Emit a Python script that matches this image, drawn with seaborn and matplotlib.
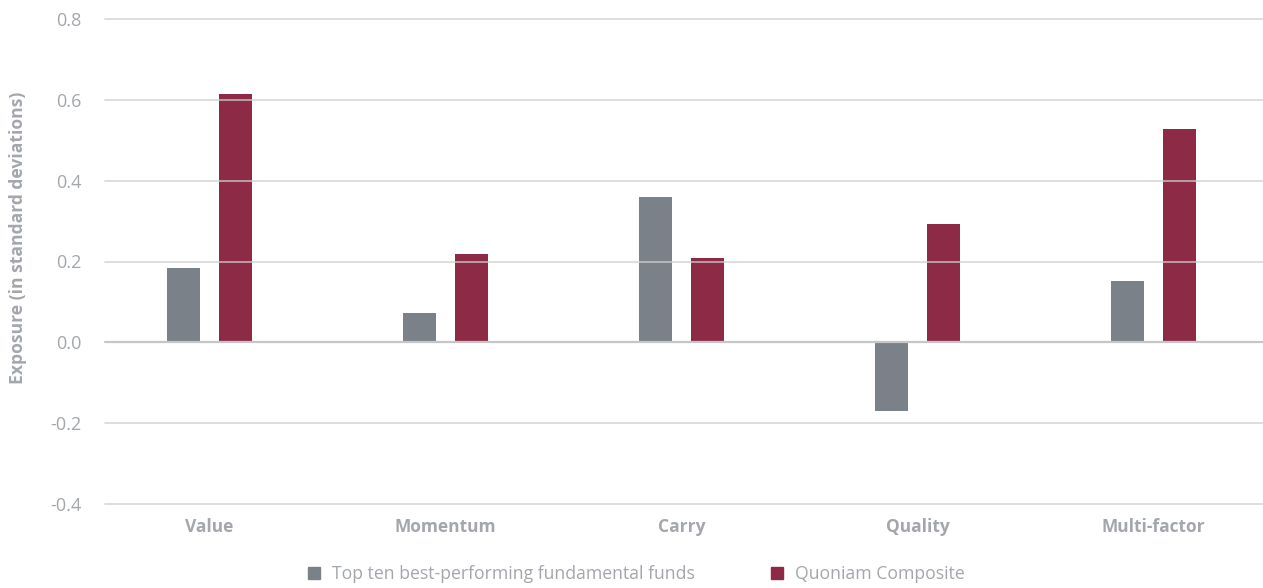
import matplotlib
matplotlib.use("Agg")
import matplotlib.pyplot as plt
import seaborn as sns
import pandas as pd
from matplotlib.lines import Line2D

# Factor exposures (in standard deviations)
factors = ["Value", "Momentum", "Carry", "Quality", "Multi-factor"]
series_names = ["Top ten best-performing fundamental funds", "Quoniam Composite"]
top_ten_funds = [0.184, 0.072, 0.359, -0.170, 0.151]
quoniam_composite = [0.615, 0.218, 0.208, 0.294, 0.527]
y_ticks = [-0.4, -0.2, 0.0, 0.2, 0.4, 0.6, 0.8]

colors = ["#7b8189", "#8d2b46"]
text_color = "#a3a7ac"

df = pd.DataFrame({
    "factor": factors * 2,
    "series": [series_names[0]] * len(factors) + [series_names[1]] * len(factors),
    "exposure": top_ten_funds + quoniam_composite,
})

sns.set_theme(style="white")
plt.rcParams["font.family"] = ["Open Sans", "DejaVu Sans"]

fig = plt.figure(figsize=(12.63, 5.88), dpi=100)
ax = fig.add_axes([105 / 1263, 84 / 588, 1158 / 1263, 485 / 588])

sns.barplot(
    data=df, x="factor", y="exposure", hue="series",
    order=factors, hue_order=series_names, palette=colors,
    width=0.44, gap=0.36, saturation=1, errorbar=None,
    linewidth=0, edgecolor="none",
    legend=False, ax=ax, zorder=2,
)

ax.set_xlim(-0.443, 4.464)
ax.set_ylim(-0.4, 0.8)
ax.set_yticks(y_ticks)
ax.set_yticklabels([f"{v:.1f}" for v in y_ticks])

# Gridlines drawn over the bars, zero baseline slightly darker
for v in y_ticks:
    if v == 0:
        ax.axhline(v, color="#c4c6c9", lw=1.6, zorder=3, clip_on=False)
    else:
        ax.axhline(v, color="#cfcfcf", lw=1.3, alpha=0.75, zorder=3, clip_on=False)

for s in ax.spines.values():
    s.set_visible(False)

ax.tick_params(axis="y", length=0, pad=17, labelsize=13, labelcolor=text_color)
ax.tick_params(axis="x", length=0, pad=10, labelsize=12.5, labelcolor=text_color)
for lbl in ax.get_xticklabels():
    lbl.set_fontweight("bold")

ax.set_xlabel("")
ax.set_ylabel("")
fig.text(18 / 1263, 1 - 238 / 588, "Exposure (in standard deviations)",
         rotation=90, ha="center", va="center", fontsize=12.6,
         fontweight="bold", color=text_color)

handles = [Line2D([0], [0], marker="s", linestyle="", markersize=9,
                  markerfacecolor=c, markeredgecolor=c) for c in colors]
fig.legend(handles, series_names, loc="center", ncol=2,
           bbox_to_anchor=(635 / 1263, 1 - 574 / 588), frameon=False,
           fontsize=12.7, labelcolor=text_color, handletextpad=0.5,
           columnspacing=4.2, handlelength=1.0)

fig.savefig("out.png", dpi=100)
